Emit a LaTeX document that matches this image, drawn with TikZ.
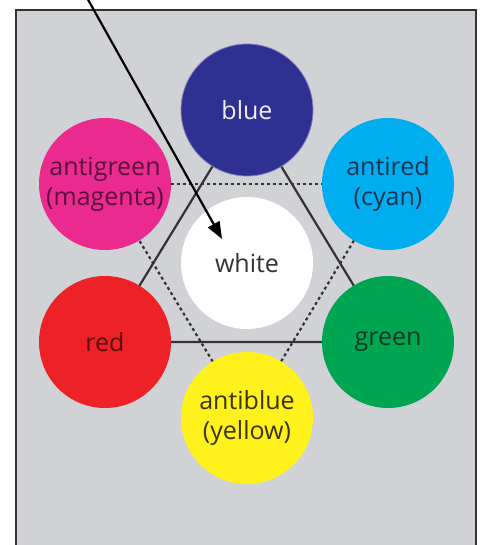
\documentclass[tikz,border=0pt]{standalone}
\usepackage{fontspec}
\setmainfont{Open Sans}
\usetikzlibrary{arrows.meta}
\definecolor{bg}{HTML}{D1D2D5}
\definecolor{cblue}{HTML}{2E3192}
\definecolor{cmag}{HTML}{EA2A8E}
\definecolor{ccyan}{HTML}{00AEEF}
\definecolor{cred}{HTML}{EC2227}
\definecolor{cgreen}{HTML}{00A551}
\definecolor{cyel}{HTML}{FFF21C}
\definecolor{tmag}{HTML}{5A0F3C}
\definecolor{tcyan}{HTML}{163554}
\definecolor{tred}{HTML}{5A0E10}
\definecolor{tgreen}{HTML}{0B3A22}
\definecolor{tyel}{HTML}{3A3300}
\definecolor{linec}{HTML}{333333}
\begin{document}
\begin{tikzpicture}[x=1pt,y=-1pt,
  disc/.style={circle,minimum size=132pt,inner sep=0pt,align=center,
    font=\fontsize{25}{30}\selectfont},
  solidl/.style={draw=linec,line width=2.2pt},
  dashl/.style={draw=linec,line width=2.2pt,dash pattern=on 3pt off 3pt},
  pointer/.style={draw=black,line width=2.2pt,-{Triangle[length=17pt,width=13pt]}}]
\useasboundingbox (0,0) rectangle (484,545);
\draw[fill=bg,draw=linec,line width=2.6pt] (16,10) rectangle (476,570);
\coordinate (c1) at (247,110);
\coordinate (c2) at (388,184);
\coordinate (c3) at (388,342);
\coordinate (c4) at (247,418);
\coordinate (c5) at (105,342);
\coordinate (c6) at (105,184);
\draw[solidl] (c1) -- (c5) -- (c3) -- cycle;
\draw[dashl] (c6) -- (c2);
\draw[dashl] (c2) -- (c4);
\draw[dashl] (c4) -- (c6);
\node[disc,fill=cblue,draw=cblue!60!white,line width=0.8pt,text=white!92!cblue] (blue) at (c1) {blue};
\node[disc,fill=ccyan,text=tcyan] (antired) at (c2) {antired\\(cyan)};
\node[disc,fill=cgreen,text=tgreen] (green) at (c3) {green};
\node[disc,fill=cyel,text=tyel] (antiblue) at (c4) {antiblue\\(yellow)};
\node[disc,fill=cred,text=tred] (red) at (c5) {red};
\node[disc,fill=cmag,text=tmag] (antigreen) at (c6) {antigreen\\(magenta)};
\node[disc,fill=white,text=black!80] (white) at (247,263) {white};
\coordinate (ps) at (86,-4);
\coordinate (pe) at (222,239);
\draw[pointer] (ps) -- (pe);
\end{tikzpicture}
\end{document}
